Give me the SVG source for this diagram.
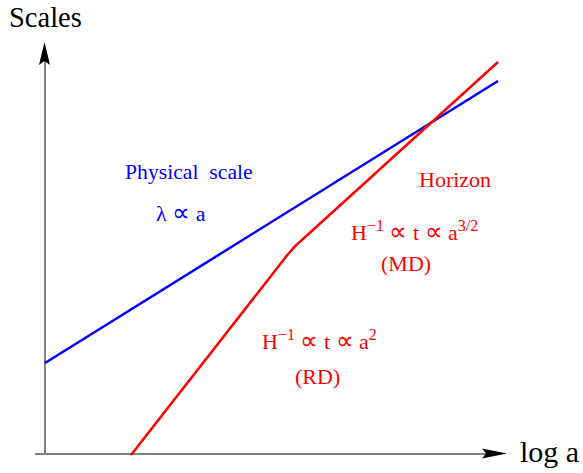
<svg xmlns="http://www.w3.org/2000/svg" width="583" height="473" viewBox="0 0 583 473">
<style>
text{font-family:"Liberation Serif","Times New Roman",serif;}
.axis{stroke:#808080;stroke-width:2;fill:none;}
.blue{fill:#0000ff;}
.red{fill:#ff0000;}
.sup{font-size:16px;}
.prop{font-family:"DejaVu Sans",sans-serif;font-size:25px;font-weight:200;}
</style>
<g id="axes">
<line class="axis" x1="45" y1="454" x2="45" y2="60"/>
<line class="axis" x1="35" y1="454" x2="486" y2="454"/>
<path d="M44.5,42 L50,65 L44.5,61 L39,65 Z" fill="#000"/>
<path d="M507,453.5 L482,448.5 L486,453.5 L482,458.5 Z" fill="#000"/>
</g>
<g id="connectors">
<line x1="45" y1="363" x2="498" y2="81" stroke="#0000ff" stroke-width="2.5"/>
<path d="M131,455 L285,258 Q293,247 303,239 L498,62" stroke="#ff0000" stroke-width="2.5" fill="none"/>
</g>
<g id="labels">
<text x="9" y="27" font-size="28.5">Scales</text>
<text x="520" y="462" font-size="30">log a</text>
<text x="125" y="179" font-size="21.7" class="blue" xml:space="preserve">Physical  scale</text>
<text x="156" y="221" font-size="22" class="blue">λ <tspan class="prop">∝</tspan> a</text>
<text x="419" y="187" font-size="22" class="red">Horizon</text>
<text x="351" y="240" font-size="22" class="red">H<tspan class="sup" dy="-9">−1</tspan><tspan dy="9"> <tspan class="prop">∝</tspan> t <tspan class="prop">∝</tspan> a</tspan><tspan class="sup" dy="-9">3/2</tspan></text>
<text x="381" y="271" font-size="22" class="red">(MD)</text>
<text x="262" y="349" font-size="22" class="red">H<tspan class="sup" dy="-9">−1</tspan><tspan dy="9"> <tspan class="prop">∝</tspan> t <tspan class="prop">∝</tspan> a</tspan><tspan class="sup" dy="-9">2</tspan></text>
<text x="295" y="384" font-size="22" class="red">(RD)</text>
</g>
</svg>
